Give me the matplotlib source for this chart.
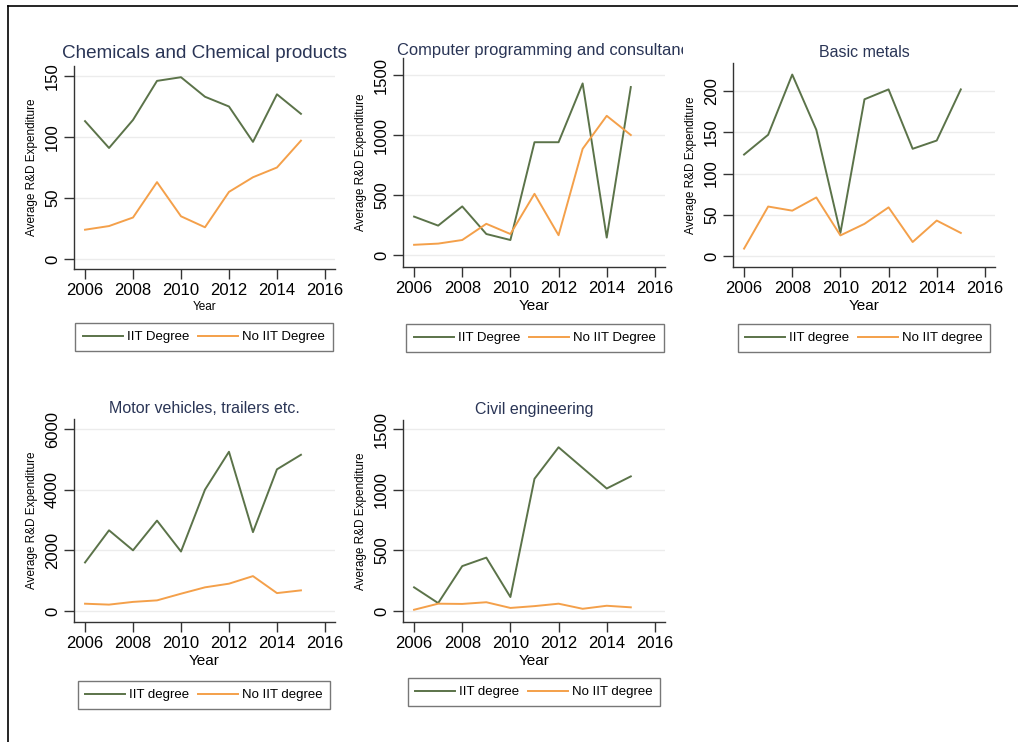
import matplotlib.pyplot as plt
from matplotlib.lines import Line2D
from matplotlib.transforms import Bbox, TransformedBbox

plt.rcParams['font.family'] = ['Liberation Sans', 'DejaVu Sans']

years = [2006, 2007, 2008, 2009, 2010, 2011, 2012, 2013, 2014, 2015]

chem_iit = [113, 91, 114, 146, 149, 133, 125, 96, 135, 119]
chem_no = [24, 27, 34, 63, 35, 26, 55, 67, 75, 97]

comp_iit = [320, 245, 405, 175, 125, 940, 940, 1430, 145, 1400]
comp_no = [85, 95, 125, 260, 175, 510, 165, 885, 1160, 1000]

metal_iit = [123, 147, 220, 153, 28, 190, 202, 130, 140, 202]
metal_no = [9, 60, 55, 71, 25, 39, 59, 17, 43, 28]

motor_iit = [1600, 2660, 2000, 2980, 1960, 4000, 5250, 2600, 4670, 5150]
motor_no = [240, 210, 300, 350, 570, 780, 900, 1150, 590, 680]

civil_iit = [195, 65, 370, 440, 115, 1090, 1350, 1180, 1010, 1110]
civil_no = [10, 60, 58, 72, 25, 40, 60, 18, 43, 30]

x_ticks = [2006, 2008, 2010, 2012, 2014, 2016]

GREEN = '#5b7349'
ORANGE = '#f4a04a'
NAVY = '#2a3556'

W, H = 1018, 742
fig = plt.figure(figsize=(W / 100, H / 100), dpi=100)


def px_rect(x0, x1, top, bottom):
    return [x0 / W, 1 - bottom / H, (x1 - x0) / W, (bottom - top) / H]


def panel(rect, iit, no, title, yticks, ylim, labels, title_size, year_size, leg_center,
          title_x=0.5, title_pad=4):
    ax = fig.add_axes(px_rect(*rect))
    ax.plot(years, iit, color=GREEN, lw=1.4, label=labels[0])
    ax.plot(years, no, color=ORANGE, lw=1.4, label=labels[1])
    ax.set_xlim(2005.54, 2016.42)
    ax.set_ylim(*ylim)
    ax.set_xticks(x_ticks)
    ax.set_yticks(yticks)
    ax.grid(axis='y', color='#ececec', lw=1)
    ax.set_axisbelow(True)
    for s in ['top', 'right']:
        ax.spines[s].set_visible(False)
    for s in ['left', 'bottom']:
        ax.spines[s].set_color('#333333')
        ax.spines[s].set_linewidth(1)
    ax.tick_params(length=7, width=1, color='#333333', labelsize=12, pad=3)
    ax.tick_params(axis='y', labelrotation=90)
    for lbl in ax.get_yticklabels():
        lbl.set_va('center')
    ax.set_ylabel('Average R&D Expenditure', fontsize=8.5, labelpad=5)
    ax.set_xlabel('Year', fontsize=year_size, labelpad=2)
    t = ax.set_title(title, fontsize=title_size, color=NAVY, pad=title_pad, x=title_x)
    leg = ax.legend(loc='center', bbox_to_anchor=(leg_center[0] / W, 1 - leg_center[1] / H),
                    bbox_transform=fig.transFigure, ncol=2, fontsize=9.5, frameon=True,
                    fancybox=False, edgecolor='#555555', handlelength=3.0,
                    handletextpad=0.3, columnspacing=0.7, borderpad=0.6)
    leg.get_frame().set_linewidth(1)
    return ax, t


panel((74, 335, 66, 269), chem_iit, chem_no, 'Chemicals and Chemical products',
      [0, 50, 100, 150], (-8.2, 158.2), ('IIT Degree', 'No IIT Degree'), 13.6, 8.5, (204, 337),
      title_pad=6)

ax2, t2 = panel((403, 665, 58, 267), comp_iit, comp_no, 'Computer programming and consultancy',
                [0, 500, 1000, 1500], (-100, 1642), ('IIT Degree', 'No IIT Degree'), 11.9, 11,
                (535, 338), title_x=0.548, title_pad=2)
t2.set_clip_box(TransformedBbox(Bbox([[0, 0], [683 / W, 1]]), fig.transFigure))
t2.set_clip_on(True)

panel((733, 995, 63, 267), metal_iit, metal_no, 'Basic metals',
      [0, 50, 100, 150, 200], (-13.3, 234), ('IIT degree', 'No IIT degree'), 11.5, 11, (864, 338))

panel((74, 335, 419, 622), motor_iit, motor_no, 'Motor vehicles, trailers etc.',
      [0, 2000, 4000, 6000], (-363, 6330), ('IIT degree', 'No IIT degree'), 11.5, 11, (204, 695))

panel((403, 665, 420, 622), civil_iit, civil_no, 'Civil engineering',
      [0, 500, 1000, 1500], (-91, 1575), ('IIT degree', 'No IIT degree'), 11.5, 11, (534, 692))

# page border (top and left edges)
fig.add_artist(Line2D([8 / W, 8 / W], [0, 1 - 6 / H], color='black', lw=1.2))
fig.add_artist(Line2D([8 / W, 1], [1 - 6 / H, 1 - 6 / H], color='black', lw=1.2))

fig.savefig('out.png', dpi=100)
